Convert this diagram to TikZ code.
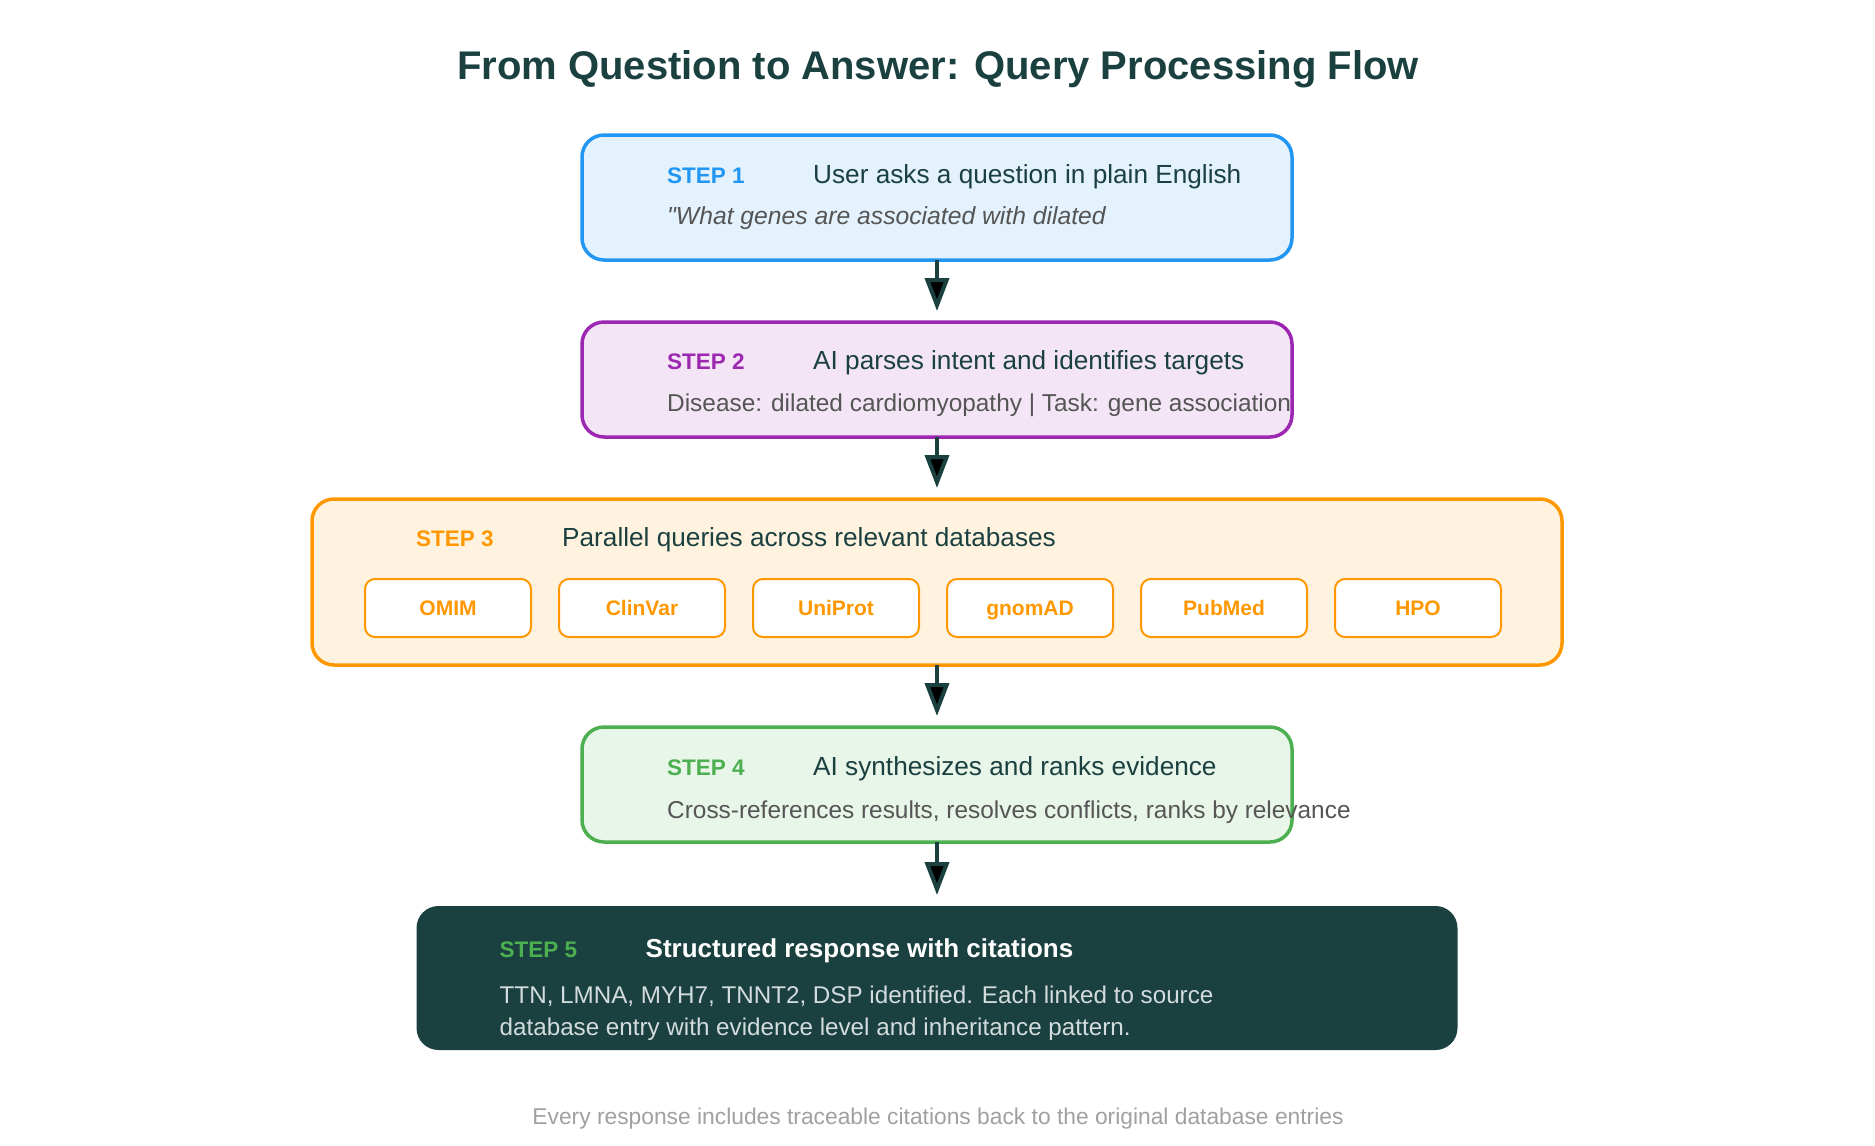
\documentclass[tikz,border=0pt]{standalone}
\usepackage{fontspec}
\setmainfont{Liberation Sans}
\usetikzlibrary{arrows.meta,positioning}

\definecolor{darkteal}{HTML}{1B4040}
\definecolor{stepblue}{HTML}{2196F3}
\definecolor{bluebg}{HTML}{E3F2FD}
\definecolor{steppurple}{HTML}{9C27B0}
\definecolor{purplebg}{HTML}{F3E5F5}
\definecolor{steporange}{HTML}{FF9800}
\definecolor{orangebg}{HTML}{FFF3E0}
\definecolor{stepgreen}{HTML}{4CAF50}
\definecolor{greenbg}{HTML}{E8F5E9}
\definecolor{subgray}{HTML}{555555}
\definecolor{footgray}{HTML}{A0A0A0}
\definecolor{bodylight}{HTML}{D3DCDC}

\begin{document}
\begin{tikzpicture}[
            x = 1pt, y = -1pt, % one unit per pixel, y downwards
            > = {Stealth[length=33pt, width=24pt, inset=0pt]}, % arrow head style
            shorten > = 11pt, % stop short of the next box
            node distance = 62pt, % gap between steps
        ]

        \tikzstyle{stepbox}=[
            draw,
            line width = 3.5pt,
            rounded corners = 22pt,
            inner sep = 0pt,
            outer sep = 0pt
        ]
        \tikzstyle{dbbox}=[
            draw = steporange,
            line width = 2pt,
            fill = white,
            rounded corners = 10pt,
            outer sep = 0pt,
            minimum width = 166pt,
            minimum height = 58pt,
            text height = 15pt,
            text depth = 0pt,
            text = steporange,
            font = \fontsize{21}{24}\selectfont\bfseries
        ]
        \tikzstyle{steptag}=[anchor = base west, inner sep = 0pt, font = \fontsize{22.5}{26}\selectfont\bfseries]
        \tikzstyle{steptitle}=[anchor = base west, inner sep = 0pt, text = darkteal, font = \fontsize{26.2}{30}\selectfont]
        \tikzstyle{stepsub}=[anchor = base west, inner sep = 0pt, text = subgray, font = \fontsize{24.4}{28}\selectfont]
        \tikzstyle{flow}=[->, draw = darkteal, line width = 4pt]

        \useasboundingbox (0,0) rectangle (1875,1146);

        % Titolo
        \node[anchor = base, text = darkteal, font = \fontsize{40}{46}\selectfont\bfseries] (title) at (938,79)
            {From Question to Answer: Query Processing Flow};

        % Passi
        \node[stepbox, draw = stepblue, fill = bluebg, minimum width = 710pt, minimum height = 125pt] (s1) at (937,197.5) {};
        \node[stepbox, draw = steppurple, fill = purplebg, minimum width = 710pt, minimum height = 115pt] (s2) [below = of s1] {};
        \node[stepbox, draw = steporange, fill = orangebg, minimum width = 1250pt, minimum height = 166pt] (s3) [below = of s2] {};
        \node[stepbox, draw = stepgreen, fill = greenbg, minimum width = 710pt, minimum height = 115pt] (s4) [below = of s3] {};
        \node[stepbox, draw = none, fill = darkteal, minimum width = 1041pt, minimum height = 144pt] (s5) [below = 64pt of s4] {};

        \path[flow] (s1) edge (s2);
        \path[flow] (s2) edge (s3);
        \path[flow] (s3) edge (s4);
        \path[flow] (s4) edge (s5);

        % Step 1
        \node[steptag, text = stepblue] (s1tag) at ([xshift = 85pt, yshift = -48pt] s1.north west) {STEP 1};
        \node[steptitle] (s1title) at ([xshift = 146pt] s1tag.base west) {User asks a question in plain English};
        \node[stepsub, font = \fontsize{24.7}{28}\selectfont\itshape] (s1sub) at ([yshift = -41pt] s1tag.base west)
            {\textquotedbl What genes are associated with dilated};

        % Step 2
        \node[steptag, text = steppurple] (s2tag) at ([xshift = 85pt, yshift = -47pt] s2.north west) {STEP 2};
        \node[steptitle] (s2title) at ([xshift = 146pt] s2tag.base west) {AI parses intent and identifies targets};
        \node[stepsub] (s2sub) at ([yshift = -42pt] s2tag.base west)
            {Disease: dilated cardiomyopathy | Task: gene association};

        % Step 3
        \node[steptag, text = steporange] (s3tag) at ([xshift = 104pt, yshift = -47pt] s3.north west) {STEP 3};
        \node[steptitle] (s3title) at ([xshift = 146pt] s3tag.base west) {Parallel queries across relevant databases};
        \node[dbbox] (omim) at ([xshift = 136pt, yshift = -109pt] s3.north west) {OMIM};
        \node[dbbox] (clinvar) [right = 28pt of omim] {ClinVar};
        \node[dbbox] (uniprot) [right = 28pt of clinvar] {UniProt};
        \node[dbbox] (gnomad) [right = 28pt of uniprot] {gnomAD};
        \node[dbbox] (pubmed) [right = 28pt of gnomad] {PubMed};
        \node[dbbox] (hpo) [right = 28pt of pubmed] {HPO};

        % Step 4
        \node[steptag, text = stepgreen] (s4tag) at ([xshift = 85pt, yshift = -48pt] s4.north west) {STEP 4};
        \node[steptitle] (s4title) at ([xshift = 146pt] s4tag.base west) {AI synthesizes and ranks evidence};
        \node[stepsub] (s4sub) at ([yshift = -43pt] s4tag.base west)
            {Cross-references results, resolves conflicts, ranks by relevance};

        % Step 5
        \node[steptag, text = stepgreen] (s5tag) at ([xshift = 83pt, yshift = -51pt] s5.north west) {STEP 5};
        \node[steptitle, text = white, font = \fontsize{26}{30}\selectfont\bfseries] (s5title) at ([xshift = 146pt] s5tag.base west)
            {Structured response with citations};
        \node[stepsub, text = bodylight, anchor = north west, align = left, font = \fontsize{24.2}{32}\selectfont] (s5body)
            at ([yshift = -28.5pt] s5tag.base west)
            {TTN, LMNA, MYH7, TNNT2, DSP identified. Each linked to source\\
             database entry with evidence level and inheritance pattern.};

        % Nota finale
        \node[anchor = base, text = footgray, font = \fontsize{22.8}{26}\selectfont] (note) at (938,1124)
            {Every response includes traceable citations back to the original database entries};

\end{tikzpicture}
\end{document}
